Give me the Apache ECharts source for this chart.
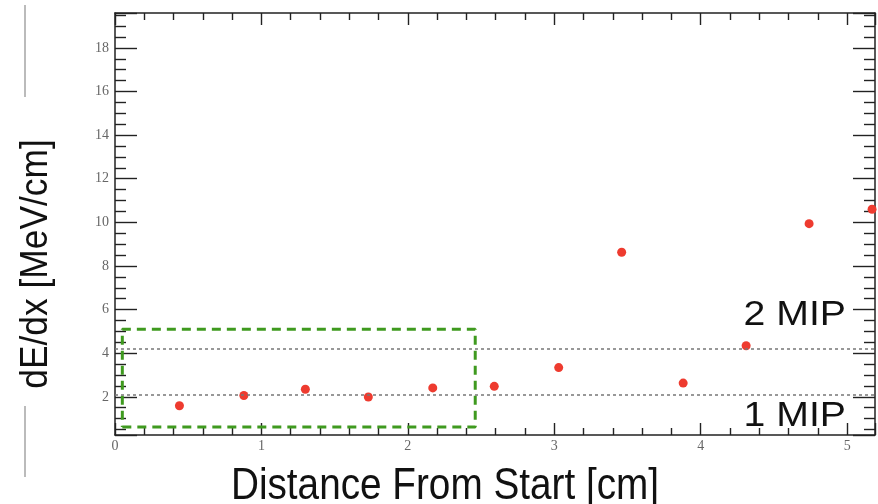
<!DOCTYPE html>
<html>
<head>
<meta charset="utf-8">
<script src="https://cdn.jsdelivr.net/npm/echarts@6/dist/echarts.min.js"></script>
<style>
	html, body { margin: 0; padding: 0; background: #fff; }
	#chart { width: 878px; height: 504px; }
</style>
</head>
<body>
<div id="chart"></div>
<script>
(function(){
	/*测量点: 距起点距离 [cm] 和 dE/dx [MeV/cm]*/
	var distance = [0.44, 0.88, 1.30, 1.73, 2.17, 2.59, 3.03, 3.46, 3.88, 4.31, 4.74, 5.17];
	var dedx = [1.59, 2.06, 2.35, 1.99, 2.41, 2.48, 3.34, 8.63, 2.63, 4.34, 9.94, 10.6];
	/*MIP 参考线*/
	var mipLevels = [2.1, 4.2];
	var mipNames = ['1 MIP', '2 MIP'];
	/*绿色虚线框的角点*/
	var boxX = [0.05, 2.46, 2.46, 0.05, 0.05];
	var boxY = [0.62, 0.62, 5.1, 5.1, 0.62];
	/*坐标轴范围*/
	var xRange = [0, 5.19];
	var yRange = [0.25, 19.6];

	var pts = [], box = [];
	for (var i = 0; i < distance.length; i++) {
		pts.push([distance[i], dedx[i]]);
	}
	for (var j = 0; j < boxX.length; j++) {
		box.push([boxX[j], boxY[j]]);
	}

	var axisColor = '#222',
		labelStyle = {
			fontFamily: 'Liberation Serif',
			fontSize: 14,
			color: '#666'
		};

	function xAx(pos, showLabel) {
		return {
			type: 'value',
			position: pos,
			min: xRange[0],
			max: xRange[1],
			interval: 1,
			axisLine: { show: true, onZero: false, lineStyle: { color: axisColor, width: 1.5 } },
			axisTick: { show: true, inside: true, length: 12, lineStyle: { color: axisColor, width: 1.4 } },
			minorTick: { show: true, splitNumber: 5, length: 7, lineStyle: { color: axisColor, width: 1.4 } },
			axisLabel: showLabel ? Object.assign({ show: true, margin: 4, showMaxLabel: false }, labelStyle) : { show: false },
			splitLine: { show: false }
		};
	}
	function yAx(pos, showLabel) {
		return {
			type: 'value',
			position: pos,
			min: yRange[0],
			max: yRange[1],
			splitNumber: 10,
			axisLine: { show: true, onZero: false, lineStyle: { color: axisColor, width: 1.5 } },
			axisTick: { show: true, inside: true, length: 22, lineStyle: { color: axisColor, width: 1.4 } },
			minorTick: { show: true, splitNumber: 4, length: 11, lineStyle: { color: axisColor, width: 1.4 } },
			axisLabel: showLabel ? Object.assign({ show: true, margin: 6, showMinLabel: false, showMaxLabel: false }, labelStyle) : { show: false },
			splitLine: { show: false }
		};
	}

	var mipLines = [];
	for (var k = 0; k < mipLevels.length; k++) {
		mipLines.push({ yAxis: mipLevels[k], name: mipNames[k] });
	}

	var option = {
		backgroundColor: '#fff',
		animation: false,
		grid: { left: 115, right: 3, top: 13, bottom: 69 },
		xAxis: [xAx('bottom', true), xAx('top', false)],
		yAxis: [yAx('left', true), yAx('right', false)],
		series: [{
			type: 'line',//绿色虚线框
			data: box,
			symbol: 'none',
			z: 2,
			lineStyle: { color: '#3f9a1f', width: 3, type: [9, 6] }
		}, {
			type: 'scatter',
			data: pts,
			symbolSize: 9,
			z: 4,
			itemStyle: { color: '#ee3b2f', opacity: 1 },
			markLine: {
				silent: true,
				symbol: 'none',
				label: { show: false },
				lineStyle: { color: '#777', width: 1.5, type: [3, 3] },
				data: mipLines
			}
		}],
		graphic: [{
			type: 'text',
			x: 445, y: 487,
			scaleX: 0.88,
			style: {
				text: 'Distance From Start [cm]',
				font: '44px "Liberation Sans"',
				fill: '#111',
				align: 'center',
				verticalAlign: 'middle'
			}
		}, {
			type: 'text',
			x: 37, y: 264,
			rotation: Math.PI / 2,
			scaleX: 0.93,
			style: {
				text: 'dE/dx [MeV/cm]',
				font: '38px "Liberation Sans"',
				fill: '#111',
				align: 'center',
				verticalAlign: 'middle'
			}
		}, {
			type: 'text',
			x: 846, y: 315,
			scaleX: 1.12,
			style: {
				text: mipNames[1],
				font: '35px "Liberation Sans"',
				fill: '#111',
				align: 'right',
				verticalAlign: 'middle'
			}
		}, {
			type: 'text',
			x: 846, y: 416,
			scaleX: 1.12,
			style: {
				text: mipNames[0],
				font: '35px "Liberation Sans"',
				fill: '#111',
				align: 'right',
				verticalAlign: 'middle'
			}
		}, {
			type: 'line',
			shape: { x1: 25, y1: 5, x2: 25, y2: 97 },
			style: { stroke: '#bbb', lineWidth: 2 }
		}, {
			type: 'line',
			shape: { x1: 25, y1: 406, x2: 25, y2: 477 },
			style: { stroke: '#bbb', lineWidth: 2 }
		}]
	};

	var myChart = echarts.init(document.getElementById('chart'));
	myChart.setOption(option);
})()
</script>
</body>
</html>
